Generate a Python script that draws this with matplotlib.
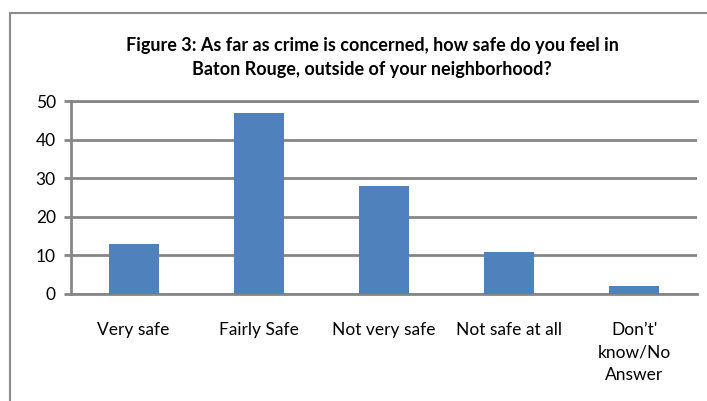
import matplotlib.pyplot as plt
from matplotlib.patches import Rectangle

categories = ["Very safe", "Fairly Safe", "Not very safe", "Not safe at all", "Don\u2019t'\nknow/No\nAnswer"]
values = [13, 47, 28, 11, 2]
yticks = [0, 10, 20, 30, 40, 50]

plt.rcParams['font.family'] = ['Lato', 'DejaVu Sans']

fig = plt.figure(figsize=(7.07, 4.01), dpi=100)
ax = fig.add_axes([71/707, 1-294/401, (697-71)/707, (294-101)/401])

# outer chart border
fig.add_artist(Rectangle((10/707, -0.1), 1.2, 1-13/401+0.1, transform=fig.transFigure,
                         fill=False, edgecolor='#8c8c8c', linewidth=1.5))

gray = '#868686'
ax.bar(range(len(values)), values, width=0.4, color='#4f81bd', zorder=3)
ax.set_xlim(-0.5, len(values)-0.5)
ax.set_ylim(0, 50)
ax.set_yticks(yticks)
ax.yaxis.grid(True, color=gray, linewidth=2, zorder=0)
for s in ['right']:
    ax.spines[s].set_visible(False)
for s in ['left', 'bottom', 'top']:
    ax.spines[s].set_color(gray)
    ax.spines[s].set_linewidth(2)
ax.tick_params(axis='y', length=5, width=2, color=gray, labelsize=12.5, pad=6)
ax.tick_params(axis='x', length=0, labelsize=12.5, pad=20)
ax.set_xticks(range(len(values)))
ax.set_xticklabels(categories, linespacing=1.5)

fig.text(372/707, 1-45/401, "Figure 3: As far as crime is concerned, how safe do you feel in",
         ha='center', va='center', fontsize=13, fontweight='bold')
fig.text(372/707, 1-69/401, "Baton Rouge, outside of your neighborhood?",
         ha='center', va='center', fontsize=13, fontweight='bold')

fig.savefig("out.png", dpi=100)
